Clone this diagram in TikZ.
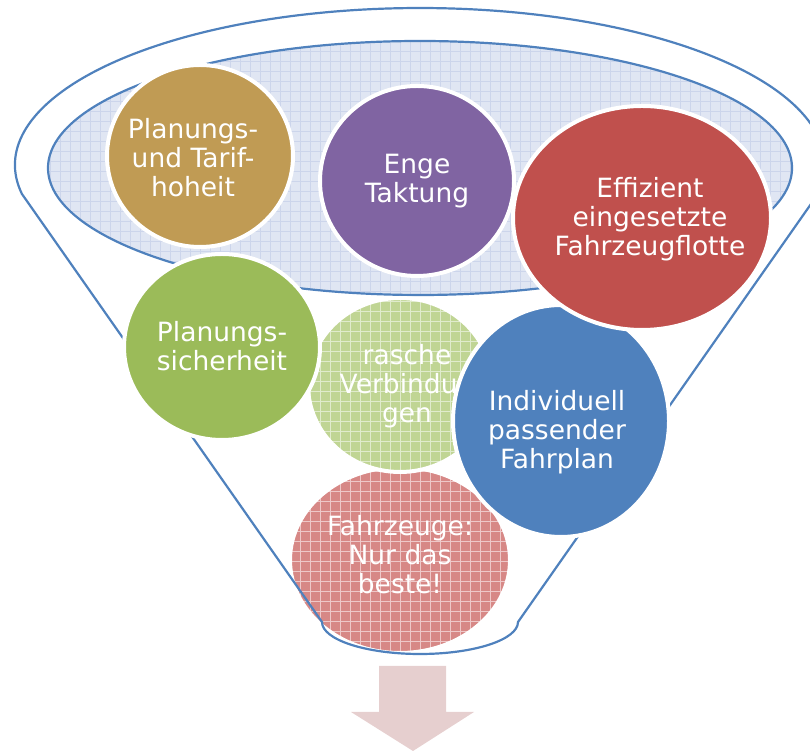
\documentclass[tikz,border=0pt]{standalone}
\usepackage{fontspec}
\setmainfont{DejaVu Sans}
\usetikzlibrary{shapes.geometric,patterns.meta}

\definecolor{funnelblue}{RGB}{79,129,189}
\definecolor{innerblue}{RGB}{224,230,243}
\definecolor{innergrid}{RGB}{204,213,235}
\definecolor{tangold}{RGB}{192,155,84}
\definecolor{lilac}{RGB}{128,100,162}
\definecolor{brickred}{RGB}{192,80,77}
\definecolor{leafgreen}{RGB}{155,187,89}
\definecolor{palegreen}{RGB}{192,213,148}
\definecolor{palegreengrid}{RGB}{224,235,204}
\definecolor{palered}{RGB}{215,136,134}
\definecolor{paleredgrid}{RGB}{238,200,200}
\definecolor{arrowpink}{RGB}{230,207,207}

\tikzset{
  bubble/.style={ellipse, draw=white, line width=4pt, inner sep=0pt},
  bubbletext/.style={text=white, align=center, font=\fontsize{26.5}{29}\selectfont},
  hatched/.style={pattern={Hatch[distance=10pt,angle=0,line width=0.7pt]}, pattern color=#1},
}

\begin{document}
\begin{tikzpicture}[x=1pt,y=1pt]
		\useasboundingbox (0,0) rectangle (810,751);

		% lowest bubble, under the funnel
		\node[bubble, preaction={fill=palered}, hatched=paleredgrid, minimum width=220pt, minimum height=186pt] at (400,191) (fahrzeuge) {};
		\node[bubbletext] at (400,196) (fahrzeugetext) {Fahrzeuge:\\Nur das\\beste!};

		% funnel
		\draw[funnelblue, line width=2.2pt] (21.9,557.1) arc[start angle=190.6, end angle=-10.6, x radius=405, y radius=157]
			-- (518,129) arc[start angle=0, end angle=-180, x radius=98, y radius=32] -- cycle;
		\draw[funnelblue, line width=2.2pt, preaction={fill=innerblue}, hatched=innergrid] (420,583) ellipse [x radius=372, y radius=127];

		% bubbles
		\node[bubble, fill=tangold, minimum width=186pt, minimum height=182pt] at (200,595) (hoheit) {};
		\node[bubbletext] at (193,593) (hoheittext) {Planungs-\\und Tarif-\\hoheit};

		\node[bubble, fill=lilac, minimum width=194pt, minimum height=190pt] at (417,570) (taktung) {};
		\node[bubbletext] at (417,570) (taktungtext) {Enge\\Taktung};

		\node[bubble, preaction={fill=palegreen}, hatched=palegreengrid, minimum width=184pt, minimum height=174pt] at (400,366) (verbindung) {};
		\node[bubbletext] at (407,365) (verbindungtext) {rasche\\Verbindun\\gen};

		\node[bubble, fill=leafgreen, minimum width=196pt, minimum height=186pt] at (222,404) (sicherheit) {};
		\node[bubbletext] at (222,405) (sicherheittext) {Planungs-\\sicherheit};

		\node[bubble, fill=funnelblue, minimum width=216pt, minimum height=232pt] at (561,330) (fahrplan) {};
		\node[bubbletext] at (557,319) (fahrplantext) {Individuell\\passender\\Fahrplan};

		\node[bubble, fill=brickred, minimum width=258pt, minimum height=224pt] at (642,533) (flotte) {};
		\node[bubbletext] at (650,532) (flottetext) {Effizient\\eingesetzte\\Fahrzeugflotte};

		% arrow below
		\fill[arrowpink] (379,85) -- (446,85) -- (446,39) -- (474,39) -- (413,0) -- (351,39) -- (379,39) -- cycle;
\end{tikzpicture}
\end{document}
